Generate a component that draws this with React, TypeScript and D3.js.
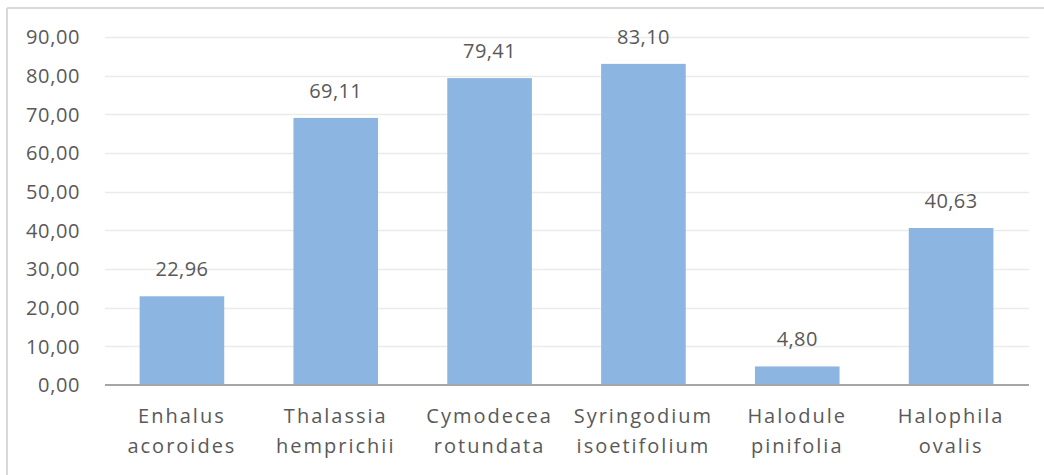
import React from "react";
import * as d3 from "d3";

const categories: string[][] = [
  ["Enhalus", "acoroides"],
  ["Thalassia", "hemprichii"],
  ["Cymodecea", "rotundata"],
  ["Syringodium", "isoetifolium"],
  ["Halodule", "pinifolia"],
  ["Halophila", "ovalis"],
];
const values: number[] = [22.96, 69.11, 79.41, 83.1, 4.8, 40.63];
const yTicks: number[] = [0, 10, 20, 30, 40, 50, 60, 70, 80, 90];

const W = 1044;
const H = 475;
const FONT = "'Open Sans', 'DejaVu Sans', sans-serif";
const TEXT = "#595959";

const fmt = (v: number) => v.toFixed(2).replace(".", ",");

export default function App() {
  const x = d3
    .scaleBand<number>()
    .domain(d3.range(categories.length))
    .range([105, 1028])
    .paddingInner(0.45)
    .paddingOuter(0.225);
  const y = d3.scaleLinear().domain([0, 90]).range([385, 37.2]);

  return (
    <svg
      width={W}
      height={H}
      style={{ position: "absolute", left: 0, top: 0, display: "block" }}
      fontFamily={FONT}
    >
      <rect x={0} y={0} width={W} height={H} fill="#fff" />
      {/* chart frame */}
      <line x1={7} x2={W} y1={8} y2={8} stroke="#d9d9d9" strokeWidth={2} />
      <line x1={7} x2={7} y1={8} y2={H} stroke="#d9d9d9" strokeWidth={2} />

      {/* gridlines */}
      {yTicks
        .filter((t) => t > 0)
        .map((t) => (
          <line
            key={t}
            x1={105}
            x2={1029}
            y1={Math.round(y(t)) + 0.5}
            y2={Math.round(y(t)) + 0.5}
            stroke="#ebebeb"
            strokeWidth={1.5}
          />
        ))}

      {/* y tick labels */}
      {yTicks.map((t) => (
        <text
          key={t}
          x={80}
          y={y(t)}
          dy="0.36em"
          textAnchor="end"
          fontSize={20}
          fill={TEXT}
          letterSpacing={0.6}
        >
          {fmt(t)}
        </text>
      ))}

      {/* bars */}
      {values.map((v, i) => (
        <rect
          key={i}
          x={x(i)}
          y={y(v)}
          width={x.bandwidth()}
          height={y(0) - y(v)}
          fill="#8db5e1"
        />
      ))}

      {/* value labels */}
      {values.map((v, i) => (
        <text
          key={i}
          x={(x(i) as number) + x.bandwidth() / 2}
          y={y(v) - 20}
          textAnchor="middle"
          fontSize={20}
          fill={TEXT}
          letterSpacing={0.4}
        >
          {fmt(v)}
        </text>
      ))}

      {/* x axis */}
      <line x1={105} x2={1029} y1={385} y2={385} stroke="#a6a6a6" strokeWidth={2} />

      {/* category labels */}
      {categories.map((lines, i) => (
        <text
          key={i}
          x={(x(i) as number) + x.bandwidth() / 2}
          textAnchor="middle"
          fontSize={20}
          fill={TEXT}
          letterSpacing={2}
        >
          {lines.map((ln, j) => (
            <tspan key={j} x={(x(i) as number) + x.bandwidth() / 2} y={423 + j * 30}>
              {ln}
            </tspan>
          ))}
        </text>
      ))}
    </svg>
  );
}
